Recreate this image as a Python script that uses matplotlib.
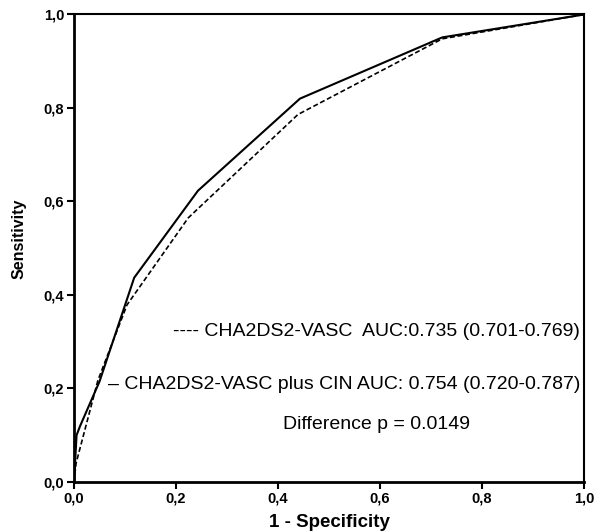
import matplotlib.pyplot as plt
from matplotlib.ticker import FuncFormatter

plt.rcParams['font.family'] = ['Liberation Sans', 'DejaVu Sans']

## ROC points
fpr_base = [0.0, 0.004, 0.047, 0.104, 0.224, 0.439, 0.722, 1.0]
tpr_base = [0.0, 0.04, 0.218, 0.379, 0.565, 0.786, 0.948, 1.0]

fpr_cin = [0.0, 0.005, 0.012, 0.05, 0.118, 0.243, 0.443, 0.722, 1.0]
tpr_cin = [0.0, 0.10, 0.12, 0.215, 0.437, 0.623, 0.82, 0.951, 1.0]

label_base = "---- CHA2DS2-VASC  AUC:0.735 (0.701-0.769)"
label_cin = "\u2013 CHA2DS2-VASC plus CIN AUC: 0.754 (0.720-0.787)"
label_diff = "Difference p = 0.0149"

ticks = [0.0, 0.2, 0.4, 0.6, 0.8, 1.0]

## plot
fig = plt.figure(figsize=(5.95, 5.31), dpi=100)
ax = fig.add_axes([0.1244, 0.0923, 0.8571, 0.8804])

ax.plot(fpr_base, tpr_base, color='black', lw=1.2, ls=(0, (3, 1.6)))
ax.plot(fpr_cin, tpr_cin, color='black', lw=1.5)

ax.set_xlim(0, 1)
ax.set_ylim(0, 1)
ax.set_xticks(ticks)
ax.set_yticks(ticks)
fmt = FuncFormatter(lambda v, p: f"{v:.1f}".replace('.', ','))
ax.xaxis.set_major_formatter(fmt)
ax.yaxis.set_major_formatter(fmt)
ax.tick_params(direction='out', length=5, width=1.5, labelsize=10.5, pad=2)
for lab in ax.get_xticklabels() + ax.get_yticklabels():
    lab.set_fontweight('bold')

for side in ['left', 'bottom']:
    ax.spines[side].set_linewidth(2)
for side in ['top', 'right']:
    ax.spines[side].set_linewidth(1.5)

ax.set_xlabel("1 - Specificity", fontsize=13.5, fontweight='bold', labelpad=6)
ax.set_ylabel("Sensitivity", fontsize=11.5, fontweight='bold', labelpad=10)
ax.yaxis.set_label_coords(-0.093, 0.52)

ax.text(0.992, 0.321, label_base, ha='right', va='center', fontsize=14)
ax.text(0.992, 0.208, label_cin, ha='right', va='center', fontsize=14)
ax.text(0.593, 0.122, label_diff, ha='center', va='center', fontsize=14)

plt.savefig("out.png", dpi=100)
plt.close(fig)
